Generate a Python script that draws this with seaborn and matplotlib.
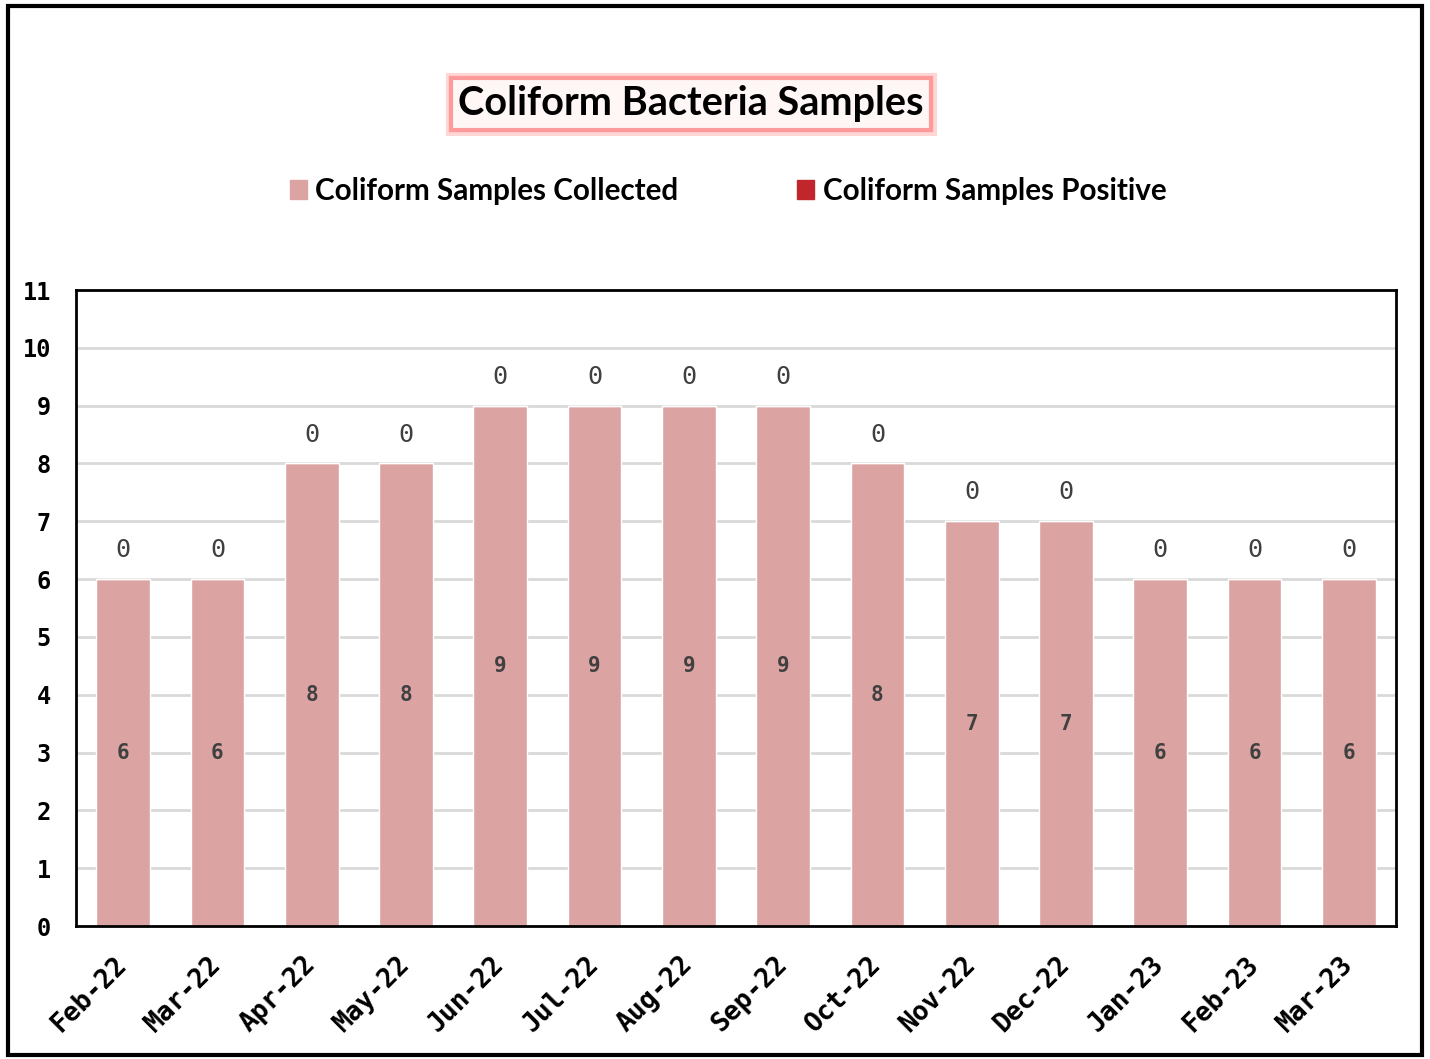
import numpy as np
import pandas as pd
import matplotlib
matplotlib.use("Agg")
import matplotlib.pyplot as plt
import matplotlib.patheffects as pe
from matplotlib.patches import Patch, Rectangle
import seaborn as sns

# data
months = ['Feb-22', 'Mar-22', 'Apr-22', 'May-22', 'Jun-22', 'Jul-22', 'Aug-22',
          'Sep-22', 'Oct-22', 'Nov-22', 'Dec-22', 'Jan-23', 'Feb-23', 'Mar-23']
collected = [6, 6, 8, 8, 9, 9, 9, 9, 8, 7, 7, 6, 6, 6]
positive = [0, 0, 0, 0, 0, 0, 0, 0, 0, 0, 0, 0, 0, 0]

col_collected = '#dca3a3'
col_positive = '#c0262c'
mono = 'DejaVu Sans Mono'
sans = 'Lato'

df = pd.DataFrame({'month': months, 'collected': collected, 'positive': positive})

sns.set_style('white')
plt.rcParams['text.color'] = 'black'
fig = plt.figure(figsize=(14.3, 10.59), dpi=100)
ax = fig.add_axes([76 / 1430, 133 / 1059, 1320 / 1430, 636 / 1059])

sns.barplot(data=df, x='month', y='collected', color=col_collected,
            saturation=1, width=0.57, ax=ax, zorder=2)
# positive samples stacked on top of collected
sns.barplot(data=df, x='month', y='positive', color=col_positive,
            saturation=1, width=0.57, ax=ax, zorder=2, bottom=df['collected'])

# labels: collected in the middle, positive on top
for i, (c, p) in enumerate(zip(collected, positive)):
    ax.text(i, c / 2, str(c), ha='center', va='center', fontsize=15,
            fontweight='bold', family=mono, color='#404040', zorder=3)
    ax.text(i, c + p + 0.5, str(p), ha='center', va='center', fontsize=18,
            family=mono, color='#404040', zorder=3)

ax.set_ylim(0, 11)
ax.set_xlim(-0.5, len(months) - 0.5)
ax.set_yticks(range(0, 12))
ax.set_yticklabels([str(v) for v in range(0, 12)], family=mono,
                   fontweight='bold', fontsize=17, color='black')
ax.set_xticks(range(len(months)))
ax.set_xticklabels(months, rotation=45, ha='right', va='center',
                   rotation_mode='anchor', family=mono, fontweight='bold',
                   fontsize=19, color='black')
ax.set_xticks(np.arange(0.5, len(months) - 0.5, 1), minor=True)
ax.tick_params(axis='x', which='major', length=0, pad=25)
ax.tick_params(axis='x', which='minor', direction='in', length=9, width=2,
               color='black')
ax.tick_params(axis='y', direction='in', length=6, width=2, color='black',
               pad=18)
ax.yaxis.grid(True, color='#d9d9d9', linewidth=2, zorder=0)
ax.set_axisbelow(True)
for s in ax.spines.values():
    s.set_visible(True)
    s.set_color('black')
    s.set_linewidth(2)
ax.set_xlabel('')
ax.set_ylabel('')

# title in a pink glowing box
t = fig.text(691 / 1430, 1 - 104 / 1059, 'Coliform Bacteria Samples',
             ha='center', va='center', fontsize=28.5, fontweight='bold',
             family=sans, color='black',
             bbox=dict(boxstyle='square,pad=0.18', fc='#fff6f6', ec='#ff9a9a',
                       lw=3))
t.get_bbox_patch().set_path_effects([pe.withStroke(linewidth=8,
                                                   foreground='#ffd6d6'),
                                     pe.Normal()])

handles = [Patch(color=col_collected, label='Coliform Samples Collected'),
           Patch(color=col_positive, label='Coliform Samples Positive')]
fig.legend(handles=handles, loc='center', bbox_to_anchor=(728 / 1430, 1 - 191 / 1059),
           ncol=2, frameon=False, handlelength=0.57, handleheight=0.57,
           handletextpad=0.3, columnspacing=4.0,
           prop=dict(family=sans, weight='bold', size=21.3))

# outer frame
fig.patches.append(Rectangle((8 / 1430, 4 / 1059), 1414 / 1430, 1049 / 1059,
                             transform=fig.transFigure, fill=False,
                             ec='black', lw=3))

fig.savefig('out.png', dpi=100)
